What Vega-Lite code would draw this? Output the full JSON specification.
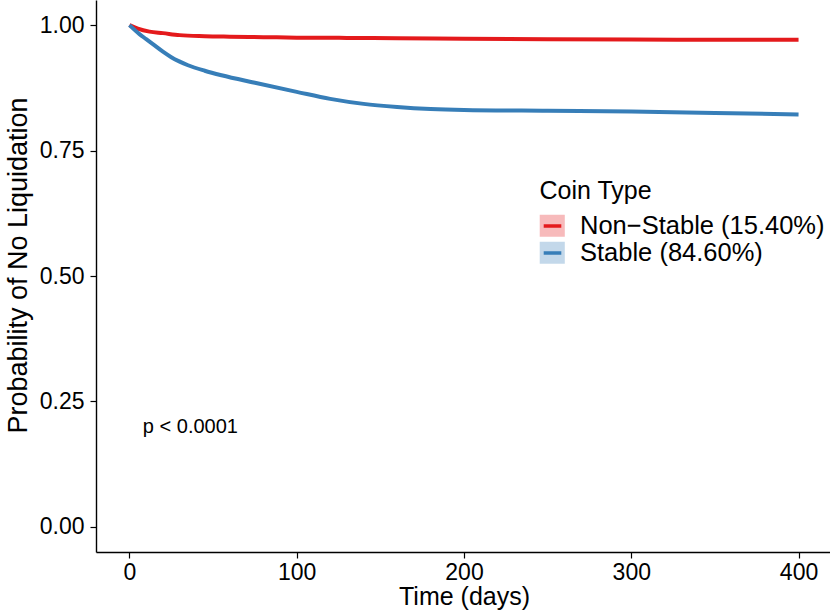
{
  "$schema": "https://vega.github.io/schema/vega-lite/v6.json",
  "width": 736,
  "height": 552,
  "autosize": {"type": "none"},
  "padding": {"left": 96, "top": 0, "right": 0, "bottom": 62},
  "background": "white",
  "config": {
    "view": {"stroke": null},
    "font": "Liberation Sans",
    "axis": {"grid": false, "domainColor": "#000000", "domainWidth": 1.4, "tickColor": "#000000", "tickWidth": 1.2, "labelColor": "#000000", "titleColor": "#000000", "labelFont": "Liberation Sans", "titleFont": "Liberation Sans", "titleFontWeight": "normal"},
    "legend": {"labelFont": "Liberation Sans", "titleFont": "Liberation Sans", "titleFontWeight": "normal", "padding": 0, "labelLimit": 0, "titleLimit": 0}
  },
  "datasets": {
    "km": [
      {"t": 0, "s": 1.0, "group": "Non−Stable (15.40%)", "grp": "Non−Stable (15.40%)"},
      {"t": 5, "s": 0.993, "group": "Non−Stable (15.40%)", "grp": "Non−Stable (15.40%)"},
      {"t": 12, "s": 0.987, "group": "Non−Stable (15.40%)", "grp": "Non−Stable (15.40%)"},
      {"t": 20, "s": 0.984, "group": "Non−Stable (15.40%)", "grp": "Non−Stable (15.40%)"},
      {"t": 30, "s": 0.980, "group": "Non−Stable (15.40%)", "grp": "Non−Stable (15.40%)"},
      {"t": 45, "s": 0.978, "group": "Non−Stable (15.40%)", "grp": "Non−Stable (15.40%)"},
      {"t": 60, "s": 0.977, "group": "Non−Stable (15.40%)", "grp": "Non−Stable (15.40%)"},
      {"t": 80, "s": 0.976, "group": "Non−Stable (15.40%)", "grp": "Non−Stable (15.40%)"},
      {"t": 100, "s": 0.975, "group": "Non−Stable (15.40%)", "grp": "Non−Stable (15.40%)"},
      {"t": 130, "s": 0.9745, "group": "Non−Stable (15.40%)", "grp": "Non−Stable (15.40%)"},
      {"t": 160, "s": 0.974, "group": "Non−Stable (15.40%)", "grp": "Non−Stable (15.40%)"},
      {"t": 200, "s": 0.973, "group": "Non−Stable (15.40%)", "grp": "Non−Stable (15.40%)"},
      {"t": 250, "s": 0.972, "group": "Non−Stable (15.40%)", "grp": "Non−Stable (15.40%)"},
      {"t": 300, "s": 0.9712, "group": "Non−Stable (15.40%)", "grp": "Non−Stable (15.40%)"},
      {"t": 350, "s": 0.9708, "group": "Non−Stable (15.40%)", "grp": "Non−Stable (15.40%)"},
      {"t": 400, "s": 0.9707, "group": "Non−Stable (15.40%)", "grp": "Non−Stable (15.40%)"},
      {"t": 0, "s": 1.0, "group": "Stable (84.60%)", "grp": "Stable (84.60%)"},
      {"t": 6, "s": 0.982, "group": "Stable (84.60%)", "grp": "Stable (84.60%)"},
      {"t": 10, "s": 0.972, "group": "Stable (84.60%)", "grp": "Stable (84.60%)"},
      {"t": 14, "s": 0.962, "group": "Stable (84.60%)", "grp": "Stable (84.60%)"},
      {"t": 20, "s": 0.947, "group": "Stable (84.60%)", "grp": "Stable (84.60%)"},
      {"t": 25, "s": 0.936, "group": "Stable (84.60%)", "grp": "Stable (84.60%)"},
      {"t": 35, "s": 0.920, "group": "Stable (84.60%)", "grp": "Stable (84.60%)"},
      {"t": 45, "s": 0.909, "group": "Stable (84.60%)", "grp": "Stable (84.60%)"},
      {"t": 55, "s": 0.900, "group": "Stable (84.60%)", "grp": "Stable (84.60%)"},
      {"t": 75, "s": 0.885, "group": "Stable (84.60%)", "grp": "Stable (84.60%)"},
      {"t": 100, "s": 0.867, "group": "Stable (84.60%)", "grp": "Stable (84.60%)"},
      {"t": 120, "s": 0.853, "group": "Stable (84.60%)", "grp": "Stable (84.60%)"},
      {"t": 140, "s": 0.843, "group": "Stable (84.60%)", "grp": "Stable (84.60%)"},
      {"t": 160, "s": 0.837, "group": "Stable (84.60%)", "grp": "Stable (84.60%)"},
      {"t": 180, "s": 0.833, "group": "Stable (84.60%)", "grp": "Stable (84.60%)"},
      {"t": 200, "s": 0.831, "group": "Stable (84.60%)", "grp": "Stable (84.60%)"},
      {"t": 250, "s": 0.8294, "group": "Stable (84.60%)", "grp": "Stable (84.60%)"},
      {"t": 300, "s": 0.828, "group": "Stable (84.60%)", "grp": "Stable (84.60%)"},
      {"t": 350, "s": 0.8249, "group": "Stable (84.60%)", "grp": "Stable (84.60%)"},
      {"t": 400, "s": 0.822, "group": "Stable (84.60%)", "grp": "Stable (84.60%)"}
    ],
    "pv": [{"t": 8, "s": 0.2, "label": "p < 0.0001"}]
  },
  "layer": [
    {
      "data": {"name": "km"},
      "mark": {"type": "point", "shape": "square", "filled": true, "opacity": 0},
      "encoding": {
        "x": {"field": "t", "type": "quantitative", "scale": {"domain": [-20, 420], "nice": false, "zero": false},
          "axis": {"values": [0, 100, 200, 300, 400], "title": "Time (days)", "labelFontSize": 23, "titleFontSize": 25, "tickSize": 6, "labelPadding": 3, "titleY": 52, "titleBaseline": "alphabetic", "labelFlush": false}},
        "y": {"field": "s", "type": "quantitative", "scale": {"domain": [-0.05, 1.05], "nice": false, "zero": false},
          "axis": {"values": [0, 0.25, 0.5, 0.75, 1], "format": ".2f", "title": "Probability of No Liquidation", "labelFontSize": 23, "titleFontSize": 27, "tickSize": 6, "labelPadding": 6, "titleX": -64, "titleY": 265, "titleAngle": -90, "titleBaseline": "bottom", "titleAlign": "center", "labelFlush": false}},
        "fill": {"field": "grp", "type": "nominal",
          "scale": {"range": ["#F7BABB", "#C3D8EA"]},
          "legend": {"title": "Coin Type", "orient": "none", "legendX": 443.5, "legendY": 179, "titleFontSize": 25, "labelFontSize": 25.5, "titlePadding": 9, "rowPadding": -2.5, "labelOffset": 15, "symbolType": "M-1.14,-1H1.14V1H-1.14Z", "symbolSize": 484, "symbolOpacity": 1, "symbolStrokeWidth": 0, "symbolStrokeColor": "transparent", "labelColor": "#000000", "titleColor": "#000000", "zindex": 0}}
      }
    },
    {
      "data": {"name": "km"},
      "mark": {"type": "line", "strokeWidth": 4, "interpolate": "monotone"},
      "encoding": {
        "x": {"field": "t", "type": "quantitative"},
        "y": {"field": "s", "type": "quantitative"},
        "stroke": {"field": "group", "type": "nominal",
          "scale": {"domain": ["Non−Stable (15.40%)", "Stable (84.60%)"], "range": ["#E41A1C", "#377EB8"]},
          "legend": {"title": "Coin Type", "orient": "none", "legendX": 443.5, "legendY": 179, "titleFontSize": 25, "labelFontSize": 25.5, "titlePadding": 9, "rowPadding": -2.5, "labelOffset": 15, "symbolType": "M-0.8,0H0.8", "symbolSize": 484, "symbolStrokeWidth": 3.5, "symbolFillColor": "transparent", "symbolOpacity": 1, "titleOpacity": 0, "labelOpacity": 0, "zindex": 1}}
      }
    },
    {
      "data": {"name": "pv"},
      "mark": {"type": "text", "align": "left", "baseline": "middle", "fontSize": 20, "font": "Liberation Sans", "color": "#000000"},
      "encoding": {
        "x": {"field": "t", "type": "quantitative"},
        "y": {"field": "s", "type": "quantitative"},
        "text": {"field": "label"}
      }
    }
  ]
}
